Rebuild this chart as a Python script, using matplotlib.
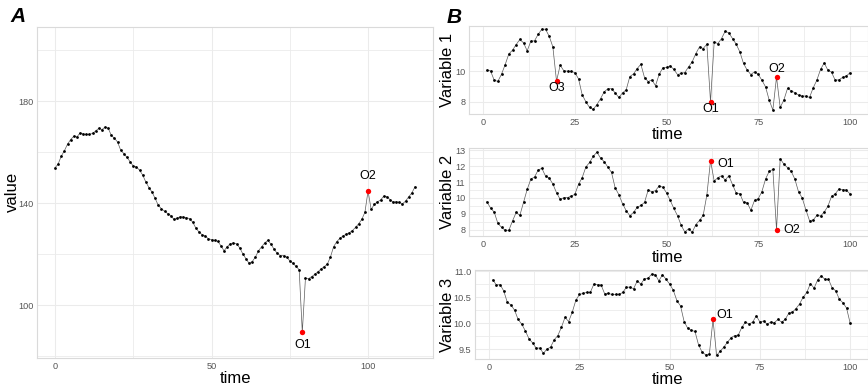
import numpy as np
import matplotlib
matplotlib.use("Agg")
import matplotlib.pyplot as plt

plt.rcParams['font.family'] = ['Liberation Sans', 'DejaVu Sans']

# ---- data -------------------------------------------------------------
series_a = [
    153.9, 155.4, 158.5, 160.6, 163.2, 165.0, 166.3, 166.0, 167.6, 167.2,
    167.0, 167.0, 167.4, 168.4, 169.4, 168.9, 169.9, 169.4, 166.6, 165.5,
    164.0, 160.8, 159.5, 158.0, 156.3, 154.6, 154.3, 153.0, 151.1, 148.4,
    146.2, 144.4, 141.9, 139.2, 137.9, 136.9, 136.0, 135.2, 133.7, 134.1,
    134.8, 134.6, 134.4, 134.0, 132.6, 130.3, 128.8, 127.7, 127.2, 126.1,
    125.8, 125.5, 125.1, 123.4, 121.4, 123.0, 124.2, 124.5, 124.1, 122.6,
    120.2, 118.3, 116.5, 117.2, 118.9, 121.4, 123.0, 124.5, 125.5, 124.0,
    122.0, 120.4, 119.5, 119.5, 118.9, 117.5, 116.5, 115.3, 114.0, 89.5,
    110.6, 110.5, 111.3, 112.2, 113.2, 114.3, 115.2, 116.2, 119.0, 123.0,
    125.0, 126.3, 127.2, 127.9, 128.5, 129.3, 130.6, 132.0, 133.7, 136.5,
    144.8, 137.6, 139.6, 140.6, 141.3, 142.8, 142.6, 141.5, 140.5, 140.6,
    140.4, 139.8, 140.9, 142.6, 144.1, 146.5,
]
time_a = list(range(len(series_a)))
outliers_a = {"O1": 79, "O2": 100}

variable_1 = [
    10.07, 10.02, 9.41, 9.33, 9.80, 10.43, 11.13, 11.37, 11.74, 12.07,
    11.85, 11.33, 11.96, 11.98, 12.41, 12.74, 12.74, 12.28, 11.59, 9.35,
    10.39, 10.02, 10.00, 9.98, 9.91, 9.50, 8.46, 8.00, 7.63, 7.50,
    7.81, 8.20, 8.65, 8.85, 8.85, 8.58, 8.28, 8.58, 8.78, 9.65,
    9.82, 10.17, 10.45, 9.58, 9.32, 9.43, 9.05, 9.80, 10.22, 10.24,
    10.35, 10.11, 9.78, 9.85, 9.91, 10.28, 10.61, 11.15, 11.59, 11.48,
    11.76, 8.00, 11.91, 11.80, 12.13, 12.61, 12.50, 12.13, 11.76, 11.26,
    10.50, 10.07, 9.78, 9.96, 9.80, 9.41, 8.98, 8.11, 7.46, 9.61,
    7.63, 8.11, 8.87, 8.72, 8.59, 8.44, 8.37, 8.37, 8.28, 8.91,
    9.41, 10.11, 10.54, 10.07, 9.93, 9.41, 9.43, 9.59, 9.67, 9.89,
]
variable_2 = [
    9.76, 9.37, 9.11, 8.40, 8.15, 7.96, 7.96, 8.55, 9.09, 8.90,
    9.72, 10.54, 11.19, 11.32, 11.76, 11.87, 11.38, 11.26, 10.88, 10.33,
    9.91, 10.02, 10.02, 10.12, 10.23, 10.86, 11.28, 11.95, 12.24, 12.62,
    12.89, 12.52, 12.29, 11.95, 11.61, 10.63, 10.21, 9.64, 9.20, 8.88,
    9.09, 9.41, 9.53, 9.72, 10.50, 10.39, 10.46, 10.77, 10.67, 10.33,
    9.85, 9.34, 8.88, 8.27, 7.85, 8.06, 7.83, 8.32, 8.59, 8.90,
    10.18, 12.35, 11.07, 11.28, 11.40, 11.13, 11.40, 10.84, 10.31, 10.27,
    9.72, 9.70, 9.22, 9.85, 9.95, 10.39, 11.19, 11.68, 11.80, 8.00,
    12.47, 12.14, 11.91, 11.68, 11.19, 10.39, 10.00, 9.26, 8.57, 8.61,
    8.90, 8.86, 9.11, 9.47, 10.10, 10.25, 10.56, 10.52, 10.50, 10.27,
]
variable_3 = [
    10.83, 10.73, 10.74, 10.62, 10.40, 10.35, 10.25, 10.07, 9.98, 9.85,
    9.70, 9.62, 9.52, 9.52, 9.42, 9.50, 9.54, 9.68, 9.76, 9.92,
    10.11, 10.03, 10.21, 10.44, 10.55, 10.57, 10.59, 10.59, 10.75, 10.74,
    10.73, 10.56, 10.57, 10.55, 10.55, 10.55, 10.59, 10.69, 10.69, 10.66,
    10.81, 10.75, 10.85, 10.86, 10.94, 10.93, 10.81, 10.93, 10.84, 10.75,
    10.63, 10.43, 10.33, 10.03, 9.90, 9.86, 9.84, 9.58, 9.44, 9.39,
    9.41, 10.07, 9.38, 9.46, 9.54, 9.63, 9.72, 9.76, 9.77, 9.92,
    10.02, 9.98, 10.02, 10.14, 10.02, 10.04, 9.98, 10.02, 10.01, 10.07,
    10.02, 10.07, 10.19, 10.21, 10.28, 10.37, 10.50, 10.59, 10.76, 10.67,
    10.83, 10.91, 10.84, 10.84, 10.68, 10.62, 10.46, 10.39, 10.29, 10.00,
]
time_b = list(range(1, len(variable_1) + 1))
outliers_1 = {"O3": 20, "O1": 62, "O2": 80}
outliers_2 = {"O1": 62, "O2": 80}
outliers_3 = {"O1": 62}

# ---- figure -----------------------------------------------------------
W, H = 868, 388
fig = plt.figure(figsize=(W / 100, H / 100), dpi=100)
fig.patch.set_facecolor("white")

GRID = "#EBEBEB"
BORDER = "#DADADA"
TICKC = "#555555"


def px_axes(left, top, right, bottom):
    return fig.add_axes([left / W, 1 - bottom / H, (right - left) / W, (bottom - top) / H])


def style(ax, xlim, ylim, xmaj, xmin, ymaj, ymin, yfmt=None):
    ax.set_xlim(*xlim)
    ax.set_ylim(*ylim)
    ax.set_xticks(xmaj)
    ax.set_xticks(xmin, minor=True)
    ax.set_yticks(ymaj)
    ax.set_yticks(ymin, minor=True)
    if yfmt:
        ax.set_yticklabels([yfmt.format(v) for v in ymaj])
    ax.grid(which="major", color=GRID, lw=0.75, zorder=0)
    ax.grid(which="minor", color=GRID, lw=0.6, zorder=0)
    ax.set_axisbelow(True)
    for s in ax.spines.values():
        s.set_color(BORDER)
        s.set_linewidth(0.8)
    ax.tick_params(which="both", length=0, labelsize=6.6, labelcolor=TICKC)
    ax.tick_params(axis="y", pad=2.5)
    ax.tick_params(axis="x", pad=2.6)


def draw_series(ax, t, y, outliers, label_pos):
    ax.plot(t, y, color="#5a5a5a", lw=0.5, zorder=2)
    ax.scatter(t, y, s=4.0, color="black", lw=0, zorder=3)
    for name, tt in outliers.items():
        v = y[t.index(tt)]
        ax.scatter([tt], [v], s=15, color="#FF0000", lw=0, zorder=4)
        dx, dy, ha = label_pos[name]
        ax.annotate(name, (tt, v), xytext=(dx, dy), textcoords="offset pixels",
                    ha=ha, va="center", fontsize=9, color="black", zorder=5)


# Panel A
axA = px_axes(37, 27, 433, 358)
style(axA, (-5.75, 120.75), (79.4, 209.1), [0, 50, 100], [25, 75],
      [100, 140, 180], [80, 120, 160, 200])
draw_series(axA, time_a, series_a, outliers_a,
            {"O1": (0, -13, "center"), "O2": (0, 15, "center")})
fig.text(235 / W, 1 - 378.5 / H, "time", ha="center", va="center", fontsize=12)
fig.text(12 / W, 1 - 192 / H, "value", ha="center", va="center", fontsize=12, rotation=90)
fig.text(17.5 / W, 1 - 16 / H, "A", ha="center", va="center", fontsize=15,
         fontweight="bold", fontstyle="italic")

# Panel B
xl_b = (-3.95, 104.95)
xmaj_b = [0, 25, 50, 75, 100]
xmin_b = [12.5, 37.5, 62.5, 87.5]

ax1 = px_axes(468.7, 25.7, 868, 114)
style(ax1, xl_b, (7.2, 12.97), xmaj_b, xmin_b, [8, 10], [9, 11, 12])
draw_series(ax1, time_b, variable_1, outliers_1,
            {"O3": (0, -7, "center"), "O1": (0, -7, "center"), "O2": (0, 8, "center")})

ax2 = px_axes(468.7, 147.7, 868, 236)
style(ax2, xl_b, (7.6, 13.17), xmaj_b, xmin_b, [8, 9, 10, 11, 12, 13],
      [8.5, 9.5, 10.5, 11.5, 12.5])
draw_series(ax2, time_b, variable_2, outliers_2,
            {"O1": (6.5, -3, "left"), "O2": (6.5, 0, "left")})

ax3 = px_axes(475, 270, 868, 359)
style(ax3, xl_b, (9.31, 11.02), xmaj_b, xmin_b, [9.5, 10.0, 10.5, 11.0],
      [9.75, 10.25, 10.75], yfmt="{:.1f}")
draw_series(ax3, time_b, variable_3, outliers_3,
            {"O1": (3.5, 4.3, "left")})

for yc in (134.5, 257, 379.5):
    fig.text(667.5 / W, 1 - yc / H, "time", ha="center", va="center", fontsize=12)
for yc, name in ((70, "Variable 1"), (192, "Variable 2"), (314.5, "Variable 3")):
    fig.text(447.5 / W, 1 - yc / H, name, ha="center", va="center", fontsize=12, rotation=90)
fig.text(454 / W, 1 - 17.5 / H, "B", ha="center", va="center", fontsize=15,
         fontweight="bold", fontstyle="italic")

fig.savefig("out.png", dpi=100, facecolor="white")
